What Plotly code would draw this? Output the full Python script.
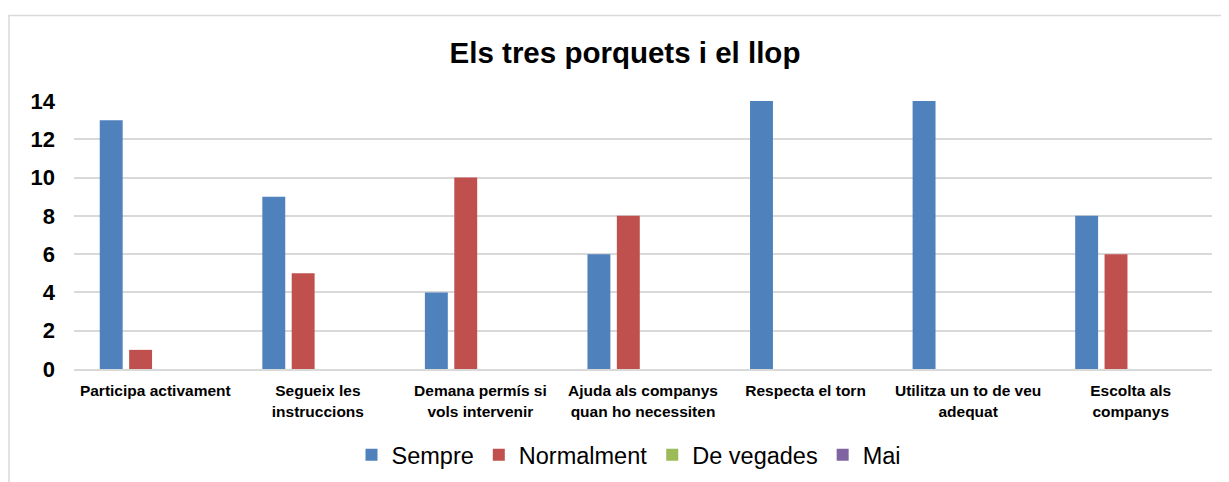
import plotly.graph_objects as go

categories = [
    "Participa activament",
    "Segueix les<br>instruccions",
    "Demana permís si<br>vols intervenir",
    "Ajuda als companys<br>quan ho necessiten",
    "Respecta el torn",
    "Utilitza un to de veu<br>adequat",
    "Escolta als<br>companys",
]
sempre = [13, 9, 4, 6, 14, 14, 8]
normalment = [1, 5, 10, 8, 0, 0, 6]
de_vegades = [0, 0, 0, 0, 0, 0, 0]
mai = [0, 0, 0, 0, 0, 0, 0]
y_ticks = [0, 2, 4, 6, 8, 10, 12, 14]

series = [
    ("Sempre", sempre, "#4F81BD"),
    ("Normalment", normalment, "#C0504D"),
    ("De vegades", de_vegades, "#9BBB59"),
    ("Mai", mai, "#8064A2"),
]

FONT = "Arial, Liberation Sans, sans-serif"
OFF = 8  # default page body margin
W, H = 1229 - OFF, 482 - OFF

fig = go.Figure()
for name, vals, col in series:
    fig.add_trace(go.Bar(x=categories, y=vals, name=name, marker=dict(color=col, line=dict(width=0))))

fig.update_layout(
    width=W, height=H, autosize=False,
    margin=dict(l=74 - OFF, r=W - (1212 - OFF), t=101 - OFF, b=H - (369 - OFF)),
    paper_bgcolor="white", plot_bgcolor="white",
    barmode="group", bargap=0.277, bargroupgap=0.22,
    font=dict(family=FONT, color="black"),
    title=dict(text="Els tres porquets i el llop",
               font=dict(size=29.5, family=FONT, color="black", weight="bold"),
               x=(625 - OFF) / W, xref="container", xanchor="center",
               y=1 - (53 - OFF) / H, yref="container", yanchor="middle"),
    legend=dict(orientation="h", xref="container", yref="container",
                x=(629 - OFF) / W, xanchor="center", y=1 - (455 - OFF) / H, yanchor="middle",
                font=dict(size=23.5, family=FONT, color="black"), itemwidth=30,
                traceorder="normal"),
    showlegend=True,
)
fig.update_yaxes(range=[0, 14], tickvals=y_ticks, showgrid=True, gridcolor="#d9d9d9", gridwidth=1.5,
                 zeroline=False, showline=False,
                 tickfont=dict(size=22, family=FONT, color="black", weight="bold"),
                 ticklabelstandoff=18, fixedrange=True, automargin=False)
fig.update_xaxes(showline=True, linecolor="#d9d9d9", linewidth=1.5, ticks="",
                 tickfont=dict(size=15.5, family=FONT, color="black", weight="bold"),
                 ticklabelstandoff=7, fixedrange=True, automargin=False)

# chart area border (extends beyond the visible page on right/bottom)
pw, ph = 1212 - 74, 369.3 - 100.7
fig.add_shape(type="rect", xref="paper", yref="paper",
              x0=(9 - 74) / pw, x1=1.2, y0=-1.0, y1=(369.3 - 15) / ph,
              line=dict(color="#d9d9d9", width=1.5), fillcolor="rgba(0,0,0,0)", layer="below")

fig.write_html("out.html")
